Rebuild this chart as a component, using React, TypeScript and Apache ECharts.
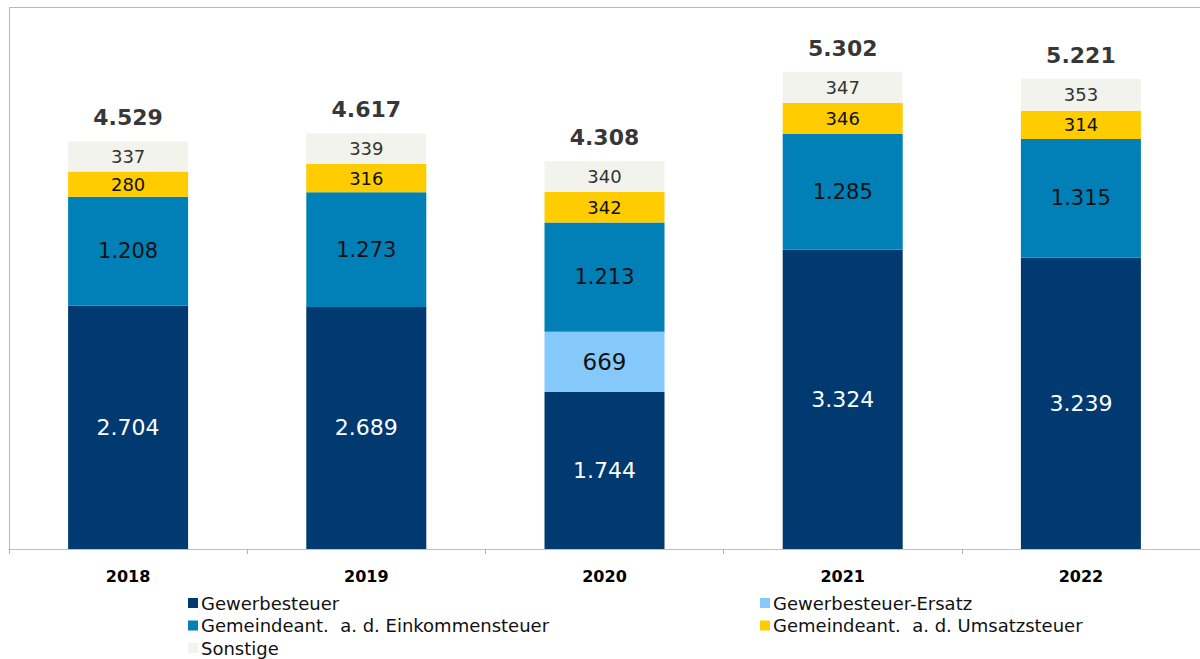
import React, { useEffect, useRef } from "react";
import * as echarts from "echarts";

const categories = ["2018", "2019", "2020", "2021", "2022"];
const gewerbesteuer = [2704, 2689, 1744, 3324, 3239];
const gewerbesteuerErsatz = [null, null, 669, null, null];
const einkommensteuer = [1208, 1273, 1213, 1285, 1315];
const umsatzsteuer = [280, 316, 342, 346, 314];
const sonstige = [337, 339, 340, 347, 353];
const totals = [4529, 4617, 4308, 5302, 5221];

const fmt = (v: number) => {
  const s = String(Math.round(v));
  return s.replace(/\B(?=(\d{3})+(?!\d))/g, ".");
};

const FONT = "'DejaVu Sans', Arial, sans-serif";

export default function App() {
  const ref = useRef<HTMLDivElement>(null);
  useEffect(() => {
    if (!ref.current) return;
    const chart = echarts.init(ref.current, undefined, { renderer: "svg" });
    const mk = (name: string, data: any[], color: string, labelColor: string, fontSize: number) => ({
      name,
      type: "bar",
      stack: "total",
      barWidth: 120,
      data,
      itemStyle: { color },
      label: {
        show: true,
        position: "inside",
        color: labelColor,
        fontSize,
        fontFamily: FONT,
        formatter: (p: any) => (p.value == null ? "" : fmt(p.value)),
      },
    });
    const legendText = { fontSize: 18, color: "#111", fontFamily: FONT, lineHeight: 18, padding: [0, 0, 0, -2] };
    chart.setOption({
      animation: false,
      textStyle: { fontFamily: FONT },
      grid: {
        left: 9,
        top: 7,
        width: 1195,
        height: 542,
        show: false,
        containLabel: false,
      },
      graphic: [
        { type: "line", shape: { x1: 9.5, y1: 7.5, x2: 9.5, y2: 549 }, style: { stroke: "#b8b8b8", lineWidth: 1 } },
        { type: "line", shape: { x1: 9.5, y1: 7.5, x2: 1200, y2: 7.5 }, style: { stroke: "#b8b8b8", lineWidth: 1 } },
      ],
      xAxis: {
        type: "category",
        data: categories,
        axisLine: { lineStyle: { color: "#c0c0c0", width: 1 } },
        axisTick: { show: true, length: 5, lineStyle: { color: "#b0b0b0" } },
        axisLabel: {
          color: "#000",
          fontWeight: "bold",
          fontSize: 16,
          fontFamily: FONT,
          margin: 19,
        },
      },
      yAxis: { type: "value", min: 0, max: 6020, show: false, splitLine: { show: false } },
      legend: [
        {
          left: 188,
          top: 594,
          orient: "vertical",
          padding: 0,
          itemWidth: 10,
          itemHeight: 10,
          itemGap: 4.5,
          icon: "rect",
          data: ["Gewerbesteuer", "Gemeindeant.  a. d. Einkommensteuer", "Sonstige"],
          textStyle: legendText,
        },
        {
          left: 760,
          top: 594,
          orient: "vertical",
          padding: 0,
          itemWidth: 10,
          itemHeight: 10,
          itemGap: 4.5,
          icon: "rect",
          data: ["Gewerbesteuer-Ersatz", "Gemeindeant.  a. d. Umsatzsteuer"],
          textStyle: legendText,
        },
      ],
      series: [
        mk("Gewerbesteuer", gewerbesteuer, "#003a70", "#ffffff", 22),
        mk("Gewerbesteuer-Ersatz", gewerbesteuerErsatz, "#85c9fa", "#111111", 23),
        mk("Gemeindeant.  a. d. Einkommensteuer", einkommensteuer, "#0080b6", "#111111", 21),
        mk("Gemeindeant.  a. d. Umsatzsteuer", umsatzsteuer, "#ffcc00", "#111111", 18),
        mk("Sonstige", sonstige, "#f3f3ee", "#333333", 18),
        {
          name: "Summe",
          type: "scatter",
          data: totals,
          symbolSize: 1,
          itemStyle: { color: "rgba(0,0,0,0)" },
          label: {
            show: true,
            position: "top",
            distance: 12,
            color: "#000000",
            fontWeight: "bold",
            fontSize: 22,
            lineHeight: 22,
            fontFamily: FONT,
            formatter: (p: any) => fmt(p.value),
          },
        },
      ],
    });
    return () => chart.dispose();
  }, []);
  return (
    <div
      ref={ref}
      style={{ position: "fixed", left: 0, top: 0, width: 1200, height: 659, background: "#fff" }}
    />
  );
}
